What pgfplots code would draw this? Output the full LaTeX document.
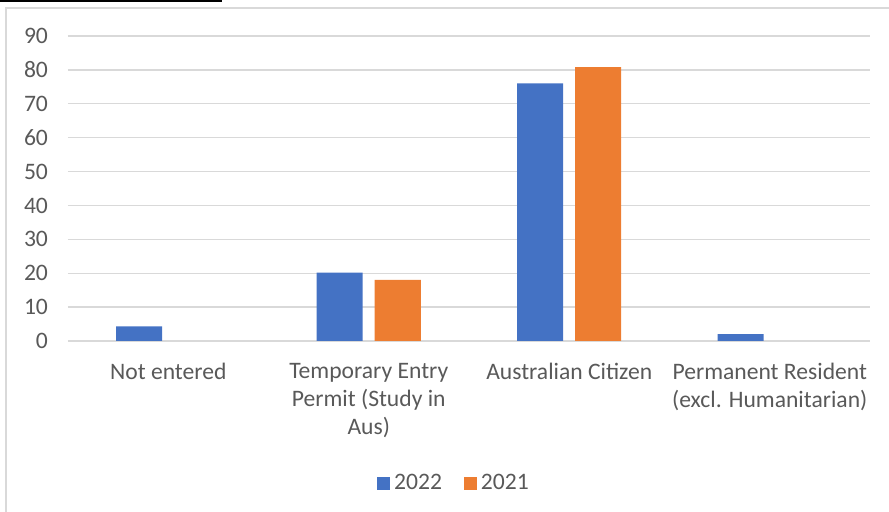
\documentclass[border=0pt]{standalone}
\usepackage{pgfplots}
\pgfplotsset{compat=1.18}
\usepackage{fontspec}
\setmainfont{Carlito}
\definecolor{cblue}{HTML}{4472C4}
\definecolor{corange}{HTML}{ED7D31}
\definecolor{tgray}{HTML}{595959}
\definecolor{ggray}{HTML}{D9D9D9}
\begin{document}
\begin{tikzpicture}
\begin{axis}[
  at={(34pt,85.5pt)}, anchor=south west,
  scale only axis, width=401pt, height=152.5pt,
  ymin=0, ymax=90, ytick={0,10,...,90},
  xmin=-0.5, xmax=3.5,
  xtick={0,1,2,3},
  xticklabels={Not entered, {Temporary Entry\\Permit (Study in\\Aus)}, Australian Citizen, {Permanent Resident\\(excl. Humanitarian)}},
  xticklabel style={align=center, text=tgray, font=\fontsize{11.8}{14}\selectfont, anchor=north, yshift=-7.5pt},
  yticklabel style={text=tgray, font=\fontsize{11.8}{14}\selectfont, anchor=east, xshift=-6.5pt},
  /pgf/number format/assume math mode=true,
  axis line style={draw=none},
  tick style={draw=none},
  ymajorgrids, grid style={ggray, line width=0.7pt},
  legend columns=2,
  legend style={at={(0.4825,-0.466)}, anchor=center, draw=none, fill=none,
    font=\fontsize{11.8}{14}\selectfont, text=tgray,
    /tikz/every even column/.append style={column sep=9pt},
    /tikz/every odd column/.append style={column sep=0pt}},
  legend image code/.code={\draw[#1,draw=none] (0pt,-3.25pt) rectangle (6.5pt,3.25pt);},
]
\addplot[ybar, fill=cblue, draw=none, bar width=23pt, bar shift=-14.5pt] coordinates {(0,4.3) (1,20.2) (2,76) (3,2)};
\addplot[ybar, fill=corange, draw=none, bar width=23pt, bar shift=14.5pt] coordinates {(1,18) (2,80.8)};
\legend{2022,2021}
\end{axis}
\draw[ggray, line width=0.75pt] (3pt,0pt) -- (3pt,252pt) -- (444.5pt,252pt);
\draw[black, line width=0.9pt] (0pt,255.6pt) -- (111pt,255.6pt);
\pgfresetboundingbox
\useasboundingbox (0,0) rectangle (444.5pt,256pt);
\end{tikzpicture}
\end{document}
